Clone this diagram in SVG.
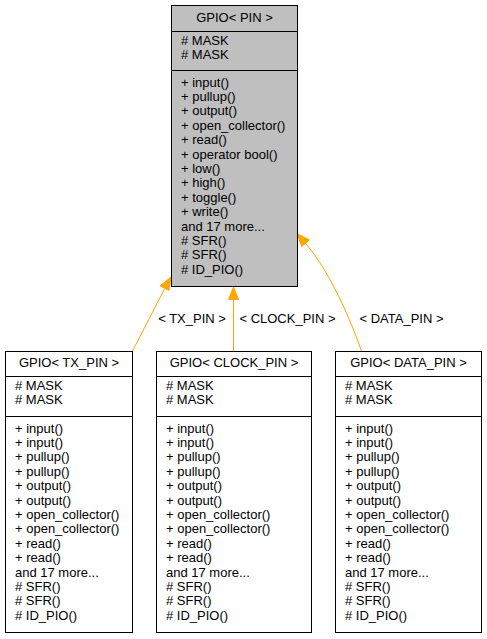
<svg xmlns="http://www.w3.org/2000/svg" width="487" height="639" viewBox="0 0 487 639">
<style>
text{font-family:"Liberation Sans",Arial,Helvetica,sans-serif;font-size:13px;fill:#000}
.c{text-anchor:middle}
.box{fill:#fff;stroke:#000;stroke-width:1}
.root{fill:#bfbfbf;stroke:#000;stroke-width:1}
.sep{stroke:#000;stroke-width:1}
.edge{fill:none;stroke:#ffa500;stroke-width:1}
.head{fill:#ffa500;stroke:#ffa500;stroke-width:1}
</style>
<rect width="487" height="639" fill="#fff"/>
<g id="connectors">
  <path class="edge" d="M132.5,351 L164.5,289"/>
  <polygon class="head" points="171,277 168.9,290.4 160.1,285.9"/>
  <text x="192" y="322.5" class="c">&lt; TX_PIN &gt;</text>
  <path class="edge" d="M233.5,351 L233.5,299.5"/>
  <polygon class="head" points="233.5,287 238.5,299.5 228.5,299.5"/>
  <text x="287.5" y="322.5" class="c">&lt; CLOCK_PIN &gt;</text>
  <path class="edge" d="M361.5,351 C350,318 330,272 305.5,243"/>
  <polygon class="head" points="297,233.5 309.3,240 301.7,246.4"/>
  <text x="401.5" y="322.5" class="c">&lt; DATA_PIN &gt;</text>
</g>
<g id="node-root">
  <rect class="root" x="171.5" y="5.5" width="126" height="281"/>
  <line class="sep" x1="171.5" y1="31.5" x2="297.5" y2="31.5"/>
  <line class="sep" x1="171.5" y1="70.5" x2="297.5" y2="70.5"/>
  <text x="234.5" y="21.5" class="c">GPIO&lt; PIN &gt;</text>
  <text><tspan x="181" y="44.5"># MASK</tspan><tspan x="181" y="58.9"># MASK</tspan></text>
  <text>
    <tspan x="181" y="86.5">+ input()</tspan>
    <tspan x="181" y="100.9">+ pullup()</tspan>
    <tspan x="181" y="115.3">+ output()</tspan>
    <tspan x="181" y="129.7">+ open_collector()</tspan>
    <tspan x="181" y="144.1">+ read()</tspan>
    <tspan x="181" y="158.5">+ operator bool()</tspan>
    <tspan x="181" y="172.9">+ low()</tspan>
    <tspan x="181" y="187.3">+ high()</tspan>
    <tspan x="181" y="201.7">+ toggle()</tspan>
    <tspan x="181" y="216.1">+ write()</tspan>
    <tspan x="181" y="230.5">and 17 more...</tspan>
    <tspan x="181" y="244.9"># SFR()</tspan>
    <tspan x="181" y="259.3"># SFR()</tspan>
    <tspan x="181" y="273.7"># ID_PIO()</tspan>
  </text>
</g>
<g id="node-tx">
  <rect class="box" x="5.5" y="351.5" width="127" height="281"/>
  <line class="sep" x1="5.5" y1="376.5" x2="132.5" y2="376.5"/>
  <line class="sep" x1="5.5" y1="416.5" x2="132.5" y2="416.5"/>
  <text x="69" y="367" class="c">GPIO&lt; TX_PIN &gt;</text>
  <text><tspan x="15" y="389.5"># MASK</tspan><tspan x="15" y="403.9"># MASK</tspan></text>
  <text>
    <tspan x="15" y="432.5">+ input()</tspan>
    <tspan x="15" y="446.9">+ input()</tspan>
    <tspan x="15" y="461.3">+ pullup()</tspan>
    <tspan x="15" y="475.7">+ pullup()</tspan>
    <tspan x="15" y="490.1">+ output()</tspan>
    <tspan x="15" y="504.5">+ output()</tspan>
    <tspan x="15" y="518.9">+ open_collector()</tspan>
    <tspan x="15" y="533.3">+ open_collector()</tspan>
    <tspan x="15" y="547.7">+ read()</tspan>
    <tspan x="15" y="562.1">+ read()</tspan>
    <tspan x="15" y="576.5">and 17 more...</tspan>
    <tspan x="15" y="590.9"># SFR()</tspan>
    <tspan x="15" y="605.3"># SFR()</tspan>
    <tspan x="15" y="619.7"># ID_PIO()</tspan>
  </text>
</g>
<g id="node-clock">
  <rect class="box" x="156.5" y="351.5" width="155" height="281"/>
  <line class="sep" x1="156.5" y1="376.5" x2="311.5" y2="376.5"/>
  <line class="sep" x1="156.5" y1="416.5" x2="311.5" y2="416.5"/>
  <text x="234" y="367" class="c">GPIO&lt; CLOCK_PIN &gt;</text>
  <text><tspan x="166" y="389.5"># MASK</tspan><tspan x="166" y="403.9"># MASK</tspan></text>
  <text>
    <tspan x="166" y="432.5">+ input()</tspan>
    <tspan x="166" y="446.9">+ input()</tspan>
    <tspan x="166" y="461.3">+ pullup()</tspan>
    <tspan x="166" y="475.7">+ pullup()</tspan>
    <tspan x="166" y="490.1">+ output()</tspan>
    <tspan x="166" y="504.5">+ output()</tspan>
    <tspan x="166" y="518.9">+ open_collector()</tspan>
    <tspan x="166" y="533.3">+ open_collector()</tspan>
    <tspan x="166" y="547.7">+ read()</tspan>
    <tspan x="166" y="562.1">+ read()</tspan>
    <tspan x="166" y="576.5">and 17 more...</tspan>
    <tspan x="166" y="590.9"># SFR()</tspan>
    <tspan x="166" y="605.3"># SFR()</tspan>
    <tspan x="166" y="619.7"># ID_PIO()</tspan>
  </text>
</g>
<g id="node-data">
  <rect class="box" x="335.5" y="351.5" width="146" height="281"/>
  <line class="sep" x1="335.5" y1="376.5" x2="481.5" y2="376.5"/>
  <line class="sep" x1="335.5" y1="416.5" x2="481.5" y2="416.5"/>
  <text x="408.5" y="367" class="c">GPIO&lt; DATA_PIN &gt;</text>
  <text><tspan x="345" y="389.5"># MASK</tspan><tspan x="345" y="403.9"># MASK</tspan></text>
  <text>
    <tspan x="345" y="432.5">+ input()</tspan>
    <tspan x="345" y="446.9">+ input()</tspan>
    <tspan x="345" y="461.3">+ pullup()</tspan>
    <tspan x="345" y="475.7">+ pullup()</tspan>
    <tspan x="345" y="490.1">+ output()</tspan>
    <tspan x="345" y="504.5">+ output()</tspan>
    <tspan x="345" y="518.9">+ open_collector()</tspan>
    <tspan x="345" y="533.3">+ open_collector()</tspan>
    <tspan x="345" y="547.7">+ read()</tspan>
    <tspan x="345" y="562.1">+ read()</tspan>
    <tspan x="345" y="576.5">and 17 more...</tspan>
    <tspan x="345" y="590.9"># SFR()</tspan>
    <tspan x="345" y="605.3"># SFR()</tspan>
    <tspan x="345" y="619.7"># ID_PIO()</tspan>
  </text>
</g>
</svg>
